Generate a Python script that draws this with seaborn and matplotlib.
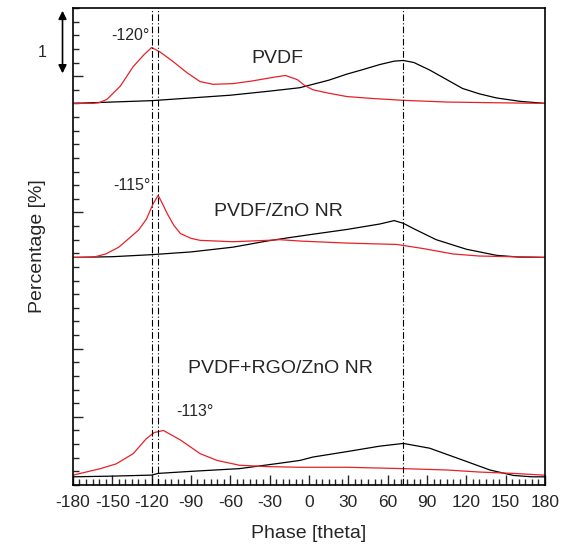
import numpy as np
import pandas as pd
import matplotlib
matplotlib.use("Agg")
import matplotlib.pyplot as plt
from matplotlib.ticker import MultipleLocator, FixedLocator
import seaborn as sns

# ---------------- data ----------------
# heights above each trace's own baseline, phase in degrees
pvdf_red_x = [-180, -165, -160, -154, -144, -134, -126, -120, -114, -104, -93, -83, -73, -58, -43, -28, -18, -9, -3, 3, 15, 29, 50, 72, 105, 140, 180]
pvdf_red_y = [0, 0, 0.01, 0.06, 0.25, 0.54, 0.71, 0.82, 0.76, 0.62, 0.45, 0.32, 0.28, 0.29, 0.33, 0.38, 0.41, 0.35, 0.26, 0.2, 0.15, 0.1, 0.07, 0.045, 0.02, 0.01, 0]
pvdf_blk_x = [-180, -150, -120, -90, -60, -30, -7, 3, 15, 29, 40, 54, 65, 72, 80, 92, 105, 117, 130, 143, 161, 180]
pvdf_blk_y = [0, 0.02, 0.04, 0.08, 0.12, 0.18, 0.23, 0.28, 0.34, 0.43, 0.49, 0.57, 0.62, 0.63, 0.6, 0.49, 0.35, 0.22, 0.14, 0.08, 0.03, 0]

zno_red_x = [-180, -165, -155, -145, -139, -130, -124, -119, -115, -112, -108, -103, -98, -90, -83, -58, -32, -22, -7, 29, 67, 87, 110, 130, 180]
zno_red_y = [0, 0, 0.05, 0.15, 0.25, 0.4, 0.56, 0.78, 0.91, 0.8, 0.64, 0.47, 0.35, 0.28, 0.25, 0.23, 0.25, 0.26, 0.24, 0.21, 0.19, 0.13, 0.05, 0.02, 0]
zno_blk_x = [-180, -150, -120, -90, -58, -32, -15, 3, 29, 54, 65, 72, 80, 97, 120, 143, 160, 180]
zno_blk_y = [0, 0.01, 0.04, 0.08, 0.15, 0.24, 0.29, 0.34, 0.41, 0.49, 0.54, 0.5, 0.42, 0.26, 0.12, 0.03, 0.005, 0]

rgo_red_x = [-180, -159, -147, -134, -124, -118, -111, -98, -83, -70, -53, -32, -7, 29, 72, 105, 130, 156, 180]
rgo_red_y = [0.024, 0.12, 0.19, 0.34, 0.56, 0.65, 0.68, 0.54, 0.34, 0.24, 0.17, 0.15, 0.14, 0.14, 0.12, 0.1, 0.07, 0.05, 0.024]
rgo_blk_x = [-180, -150, -120, -115, -90, -53, -22, -7, 3, 29, 54, 72, 92, 118, 138, 156, 170, 180]
rgo_blk_y = [0, 0.01, 0.025, 0.05, 0.08, 0.12, 0.2, 0.24, 0.29, 0.37, 0.45, 0.49, 0.42, 0.24, 0.1, 0.02, 0, 0]

# vertical offsets of the three samples
offsets = {"PVDF": 5.6, "PVDF/ZnO NR": 3.34, "PVDF+RGO/ZnO NR": 0.12}
peak_lines = [-120, -115, 72]

sns.set_style("ticks")
plt.rcParams["font.family"] = ["Liberation Sans", "DejaVu Sans"]
plt.rcParams["axes.unicode_minus"] = False

fig = plt.figure(figsize=(5.74, 5.59), dpi=100)
ax = fig.add_axes([0.127, 0.1324, 0.8225, 0.8533])

curves = [
    (pvdf_blk_x, pvdf_blk_y, "PVDF", "black"),
    (pvdf_red_x, pvdf_red_y, "PVDF", "#e8202a"),
    (zno_blk_x, zno_blk_y, "PVDF/ZnO NR", "black"),
    (zno_red_x, zno_red_y, "PVDF/ZnO NR", "#e8202a"),
    (rgo_blk_x, rgo_blk_y, "PVDF+RGO/ZnO NR", "black"),
    (rgo_red_x, rgo_red_y, "PVDF+RGO/ZnO NR", "#e8202a"),
]
for xs, ys, name, col in curves:
    df = pd.DataFrame({"phase": xs, "pct": np.array(ys) + offsets[name]})
    sns.lineplot(data=df, x="phase", y="pct", color=col, lw=0.9, ax=ax)

for xv in peak_lines:
    ax.axvline(xv, color="black", lw=0.8, ls="-.", dashes=(6, 2, 1, 2))

ax.set_xlim(-180, 180)
ax.set_ylim(0, 7)
ax.xaxis.set_major_locator(MultipleLocator(30))
ax.xaxis.set_minor_locator(MultipleLocator(5))
ax.yaxis.set_major_locator(FixedLocator([1, 2, 4, 6]))
ax.yaxis.set_minor_locator(MultipleLocator(0.2))
ax.set_yticklabels([])
ax.tick_params(axis="both", which="major", direction="in", length=7, width=1, labelsize=12.5)
ax.tick_params(axis="both", which="minor", direction="in", length=4, width=1)
ax.tick_params(axis="x", pad=7)
for s in ax.spines.values():
    s.set_linewidth(1.2)
    s.set_color("black")

ax.set_xlabel("Phase [theta]", fontsize=14, labelpad=11)
ax.set_ylabel("Percentage [%]", fontsize=14, labelpad=16)

ax.text(-136.5, 6.6, "-120°", fontsize=11.5, ha="center", va="center")
ax.text(-135, 4.40, "-115°", fontsize=11.5, ha="center", va="center")
ax.text(-86.6, 1.08, "-113°", fontsize=11.5, ha="center", va="center")
ax.text(-24, 6.26, "PVDF", fontsize=14, ha="center", va="center")
ax.text(-23.6, 4.01, "PVDF/ZnO NR", fontsize=14, ha="center", va="center")
ax.text(-22, 1.71, "PVDF+RGO/ZnO NR", fontsize=14, ha="center", va="center")

ax.annotate("", xy=(-0.022, 7.0), xytext=(-0.022, 6.0),
            xycoords=("axes fraction", "data"), textcoords=("axes fraction", "data"),
            arrowprops=dict(arrowstyle="<|-|>", color="black", lw=1.2, mutation_scale=12),
            annotation_clip=False)
ax.text(-0.066, 6.35, "1", fontsize=11.5, ha="center", va="center",
        transform=ax.get_yaxis_transform())

plt.savefig("out.png", dpi=100)
